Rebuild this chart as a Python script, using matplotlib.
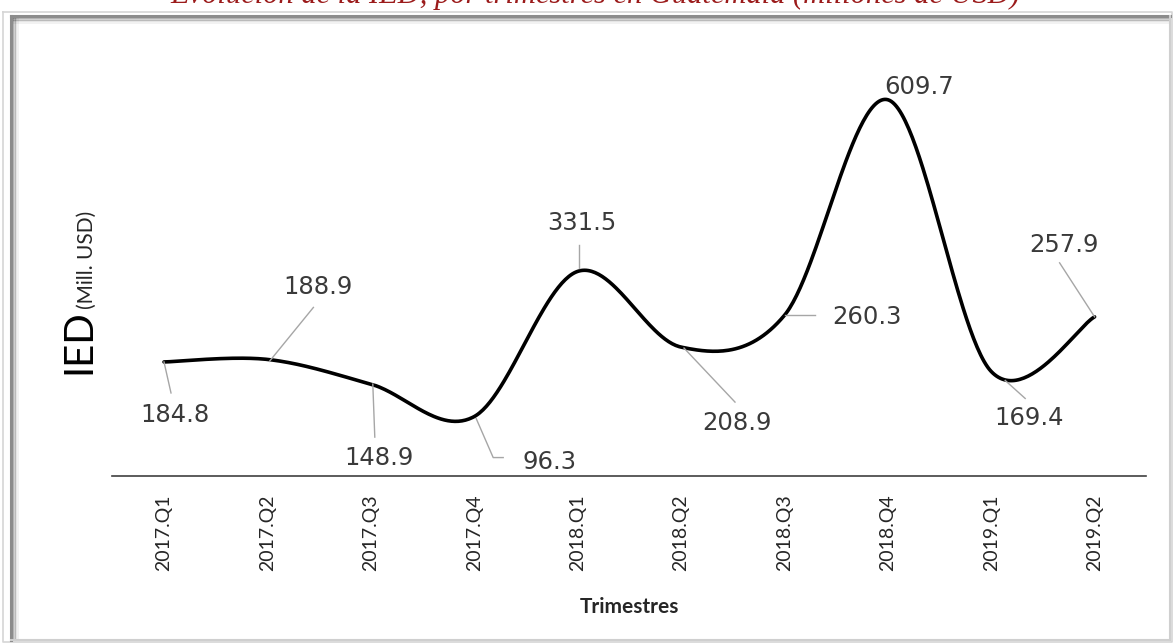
import numpy as np
import matplotlib
matplotlib.use("Agg")
import matplotlib.pyplot as plt
from matplotlib.lines import Line2D
from matplotlib.transforms import IdentityTransform

# Quarterly FDI inflows (millions of USD)
quarters = ["2017.Q1", "2017.Q2", "2017.Q3", "2017.Q4", "2018.Q1",
            "2018.Q2", "2018.Q3", "2018.Q4", "2019.Q1", "2019.Q2"]
ied_values = [184.8, 188.9, 148.9, 96.3, 331.5, 208.9, 260.3, 609.7, 169.4, 257.9]
value_labels = ["184.8", "188.9", "148.9", "96.3", "331.5",
                "208.9", "260.3", "609.7", "169.4", "257.9"]

W, H = 1176, 644
fig = plt.figure(figsize=(W / 100, H / 100), dpi=100)
fig.patch.set_facecolor("white")


def fx(x):
    return x / W


def fy(y):
    return 1 - y / H


# ---- framed panel with a soft shadow on the top/left edges ----
def fline(xs, ys, **kw):
    fig.add_artist(Line2D([fx(x) for x in xs], [fy(y) for y in ys],
                          transform=fig.transFigure, **kw))


fline([3, 1172, 1172, 3, 3], [12, 12, 642, 642, 12], color="#d6d6d6", lw=1.2)
for k, a in enumerate([0.35, 0.22, 0.12, 0.06]):
    fline([13 + 1.5 * k, 13 + 1.5 * k], [18, 640], color="black", alpha=a, lw=1.2)
    fline([13, 1169], [18 + 1.5 * k, 18 + 1.5 * k], color="black", alpha=a, lw=1.2)
fline([11, 11], [16, 640], color="#8c8c8c", lw=2.2)
fline([11, 1170], [16, 16], color="#8c8c8c", lw=2.2)
fline([1170, 1170], [16, 640], color="#cfcfcf", lw=1.5)
fline([11, 1170], [640, 640], color="#cfcfcf", lw=1.5)

# Title line running above the panel's top edge
fig.text(fx(595), fy(3),
         "Evolución de la IED, por trimestres en Guatemala (millones de USD)",
         ha="center", va="baseline", fontsize=22, style="italic",
         family="Liberation Serif", color="#9b1b1b")

# ---- plot area ----
ax = fig.add_axes([fx(112.3), fy(476), 1034 / W, 432 / H])
ax.set_xlim(-0.5, len(quarters) - 0.5)
ax.set_ylim(0, 700)
ax.patch.set_alpha(0)

# Smoothed line (Catmull-Rom style Bezier through every quarter)
x = np.arange(len(ied_values), dtype=float)
y = np.array(ied_values, dtype=float)
px = np.concatenate([[x[0]], x, [x[-1]]])
py = np.concatenate([[y[0]], y, [y[-1]]])
t = np.linspace(0, 1, 60)
cx, cy = [], []
for i in range(len(x) - 1):
    p0 = np.array([px[i], py[i]])
    p1 = np.array([px[i + 1], py[i + 1]])
    p2 = np.array([px[i + 2], py[i + 2]])
    p3 = np.array([px[i + 3], py[i + 3]])
    c1 = p1 + (p2 - p0) / 6
    c2 = p2 - (p3 - p1) / 6
    b = ((1 - t) ** 3)[:, None] * p1 + (3 * (1 - t) ** 2 * t)[:, None] * c1 \
        + (3 * (1 - t) * t ** 2)[:, None] * c2 + (t ** 3)[:, None] * p2
    cx.extend(b[:, 0])
    cy.extend(b[:, 1])
ax.plot(cx, cy, color="black", lw=2.6, solid_capstyle="round", zorder=3)

for s in ["top", "right", "left"]:
    ax.spines[s].set_visible(False)
ax.spines["bottom"].set_color("#404040")
ax.spines["bottom"].set_linewidth(1.2)
ax.set_yticks([])
ax.set_xticks(x)
ax.set_xticklabels(quarters, rotation=90, family="Lato", fontsize=14,
                   color="#262626")
ax.tick_params(axis="x", length=0, pad=13)
ax.set_xlabel("Trimestres", family="Lato", fontweight="bold", fontsize=15,
              color="#262626", labelpad=19)

# y-axis title: large "IED" followed by smaller unit text
fig.text(fx(90), fy(374), "IED", rotation=90, ha="left", va="baseline",
         family="Lato", fontsize=29, color="black", rotation_mode="anchor")
fig.text(fx(93), fy(309), "(Mill. USD)", rotation=90, ha="left", va="baseline",
         family="Lato", fontsize=15, color="#262626", rotation_mode="anchor")

# Data labels: (label dx, dy) and leader vertices, in pixels (y downwards)
label_offsets = [(11, 53), (51, -72), (8, 74), (75, 45), (4, -48),
                 (56, 76), (83, 2), (31, -13), (38, 47), (-31, -72)]
leaders = [
    [(0, 0), (7, 31)],
    [(2, 2), (46, -52)],
    [(2, 0), (4, 53)],
    [(2, 2), (19, 41), (29, 41)],
    [(1, -3), (1, -26)],
    [(3, 1), (54, 55)],
    [(1, 0), (31, 0)],
    [],
    [(14, 9), (34, 27)],
    [(0, 0), (-35, -54)],
]

fig.canvas.draw()
for i, v in enumerate(ied_values):
    X, Y = ax.transData.transform((i, v))
    dx, dy = label_offsets[i]
    ax.annotate(value_labels[i], xy=(i, v), xytext=(dx, -dy),
                textcoords="offset pixels", ha="center", va="center",
                fontsize=17.5, color="#3a3a3a", family="DejaVu Sans", zorder=4)
    pts = leaders[i]
    if pts:
        fig.add_artist(Line2D([X + p[0] for p in pts], [Y - p[1] for p in pts],
                              transform=IdentityTransform(), color="#a6a6a6",
                              lw=1.0, zorder=2))

fig.savefig("out.png", dpi=100)
